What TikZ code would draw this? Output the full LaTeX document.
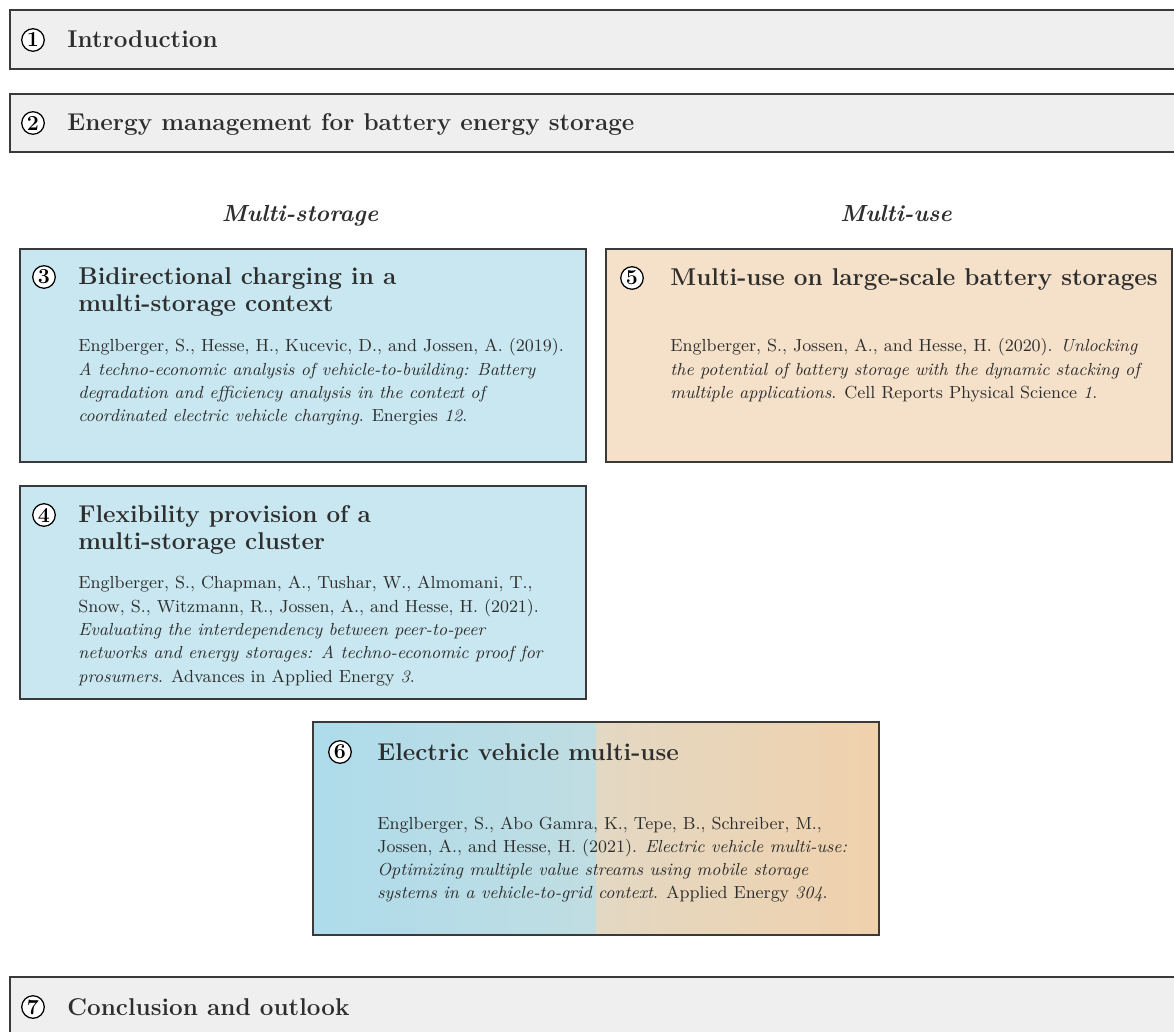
\documentclass[tikz,border=0pt]{standalone}
\definecolor{boxline}{HTML}{3A3A3A}
\definecolor{txt}{HTML}{2E2E2E}
\definecolor{grayfill}{HTML}{EFEFEF}
\definecolor{bluefill}{HTML}{C8E7F0}
\definecolor{peachfill}{HTML}{F5E1C9}
\definecolor{blueA}{HTML}{AEDCEB}
\definecolor{blueB}{HTML}{C0DDE2}
\definecolor{peachA}{HTML}{E3D8C3}
\definecolor{peachB}{HTML}{F0D1AC}
\newcommand{\headfont}{\fontsize{12.5}{13.4}\selectfont\bfseries}
\newcommand{\bodyfont}{\fontsize{9}{12}\selectfont}
\begin{document}
\begin{tikzpicture}[x=0.515pt,y=-0.515pt,
  box/.style={draw=boxline, line width=0.7pt},
  num/.style={circle, draw=black, line width=0.65pt, fill=white, inner sep=0pt, minimum size=11.6pt, font=\fontsize{11}{12}\selectfont\bfseries, text=black},
  head/.style={anchor=base west, inner sep=0pt, font=\headfont, text=txt},
  sec/.style={anchor=base, inner sep=0pt, font=\large\bfseries\itshape, text=txt},
  body/.style={anchor=base west, inner sep=0pt, font=\bodyfont, text=txt}]
\useasboundingbox (0,0) rectangle (1174,1032);
\begin{scope}
\clip (0,0) rectangle (1174,1032);
% top / bottom bars
\draw[box, fill=grayfill] (10,10) rectangle (1200,69);
\draw[box, fill=grayfill] (10,94) rectangle (1200,152);
\draw[box, fill=grayfill] (10,977) rectangle (1200,1060);
\end{scope}
\node[num] (c1) at (33,40) {1};
\node[head] (t1) at (67,48) {Introduction};
\node[num] (c2) at (33,123) {2};
\node[head] (t2) at (67,131) {Energy management for battery energy storage};
\node[num] (c7) at (33,1007) {7};
\node[head] (t7) at (67,1015) {Conclusion and outlook};

% section labels
\node[sec] (ms) at (300,222) {Multi-storage};
\node[sec] (mu) at (896,222) {Multi-use};

% box 3
\draw[box, fill=bluefill] (20,249) rectangle (586,462);
\node[num] (c3) at (44,277) {3};
\node[head] (t3) at (78,285) {\parbox[t]{320pt}{\raggedright\headfont Bidirectional charging in a\\ multi-storage context}};
\node[body] (r3) at (78,352) {\parbox[t]{300pt}{\raggedright\bodyfont
Englberger, S., Hesse, H., Kucevic, D., and Jossen, A. (2019).\\
\emph{A techno-economic analysis of vehicle-to-building: Battery}\\
\emph{degradation and efficiency analysis in the context of}\\
\emph{coordinated electric vehicle charging}. Energies \emph{12}.}};

% box 5
\draw[box, fill=peachfill] (606,249) rectangle (1172,462);
\node[num] (c5) at (632,278) {5};
\node[head] (t5) at (670,286) {Multi-use on large-scale battery storages};
\node[body] (r5) at (670,352) {\parbox[t]{300pt}{\raggedright\bodyfont
Englberger, S., Jossen, A., and Hesse, H. (2020). \emph{Unlocking}\\
\emph{the potential of battery storage with the dynamic stacking of}\\
\emph{multiple applications}. Cell Reports Physical Science \emph{1}.}};

% box 4
\draw[box, fill=bluefill] (20,486) rectangle (586,699);
\node[num] (c4) at (44,515) {4};
\node[head] (t4) at (78,523) {\parbox[t]{320pt}{\raggedright\headfont Flexibility provision of a\\ multi-storage cluster}};
\node[body] (r4) at (78,589) {\parbox[t]{300pt}{\raggedright\bodyfont
Englberger, S., Chapman, A., Tushar, W., Almomani, T.,\\
Snow, S., Witzmann, R., Jossen, A., and Hesse, H. (2021).\\
\emph{Evaluating the interdependency between peer-to-peer}\\
\emph{networks and energy storages: A techno-economic proof for}\\
\emph{prosumers}. Advances in Applied Energy \emph{3}.}};

% box 6
\shade[left color=blueA, right color=blueB] (313,722) rectangle (596,935);
\shade[left color=peachA, right color=peachB] (596,722) rectangle (879,935);
\draw[box] (313,722) rectangle (879,935);
\node[num] (c6) at (340,752) {6};
\node[head] (t6) at (377,760) {Electric vehicle multi-use};
\node[body] (r6) at (377,829) {\parbox[t]{300pt}{\raggedright\bodyfont
Englberger, S., Abo Gamra, K., Tepe, B., Schreiber, M.,\\
Jossen, A., and Hesse, H. (2021). \emph{Electric vehicle multi-use:}\\
\emph{Optimizing multiple value streams using mobile storage}\\
\emph{systems in a vehicle-to-grid context}. Applied Energy \emph{304}.}};
\end{tikzpicture}
\end{document}
